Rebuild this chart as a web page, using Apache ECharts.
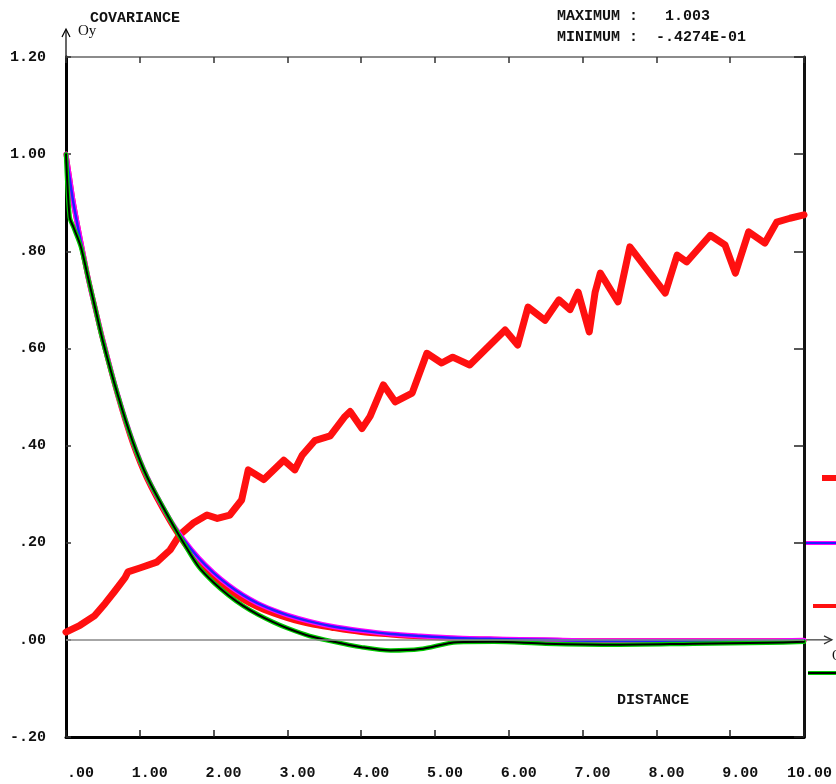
<!DOCTYPE html>
<html>
<head>
<meta charset="utf-8">
<script src="https://cdn.jsdelivr.net/npm/echarts@6/dist/echarts.min.js"></script>
<style>
  html, body { margin: 0; padding: 0; background: #fff; }
  #chart { width: 836px; height: 784px; }
</style>
</head>
<body>
<div id="chart"></div>
<script>
// rising red curve
const distRise = [0, 0.19, 0.39, 0.53, 0.66, 0.8, 0.84, 1.0, 1.23, 1.41, 1.54, 1.72, 1.91, 2.05, 2.22, 2.38, 2.47,
  2.68, 2.95, 3.1, 3.2, 3.37, 3.58, 3.78, 3.85, 4.01, 4.12, 4.3, 4.46, 4.69, 4.89, 5.09, 5.24, 5.47, 5.95,
  6.12, 6.26, 6.49, 6.68, 6.83, 6.94, 7.09, 7.17, 7.24, 7.48, 7.64, 8.12, 8.28, 8.41, 8.73, 8.93, 9.07,
  9.25, 9.47, 9.63, 9.81, 10.0];
const covRise = [0.016, 0.03, 0.05, 0.075, 0.1, 0.128, 0.14, 0.148, 0.16, 0.185, 0.216, 0.24, 0.257, 0.25, 0.257,
  0.288, 0.35, 0.33, 0.37, 0.35, 0.38, 0.41, 0.42, 0.46, 0.47, 0.435, 0.46, 0.525, 0.49, 0.508, 0.59, 0.57,
  0.582, 0.566, 0.638, 0.607, 0.685, 0.658, 0.70, 0.68, 0.716, 0.634, 0.716, 0.755, 0.696, 0.809, 0.714,
  0.792, 0.778, 0.833, 0.813, 0.755, 0.84, 0.817, 0.86, 0.868, 0.875];

// decaying curves
const distDecay = [0, 0.05, 0.1, 0.2, 0.3, 0.4, 0.5, 0.7, 0.9, 1.1, 1.4, 1.6, 1.8, 2.0, 2.2, 2.4, 2.6, 2.8,
  3.0, 3.3, 3.6, 4.0, 4.4, 4.8, 5.3, 5.8, 6.5, 7.5, 8.5, 9.5, 10];
const covUpper = [1.0, 0.95, 0.90, 0.82, 0.745, 0.68, 0.617, 0.505, 0.41, 0.335, 0.25, 0.205, 0.168, 0.138,
  0.113, 0.092, 0.075, 0.062, 0.051, 0.038, 0.028, 0.019, 0.012, 0.008, 0.004, 0.002, 0.0, -0.002, -0.002,
  -0.002, -0.001];
const covRedDecay = [1.0, 0.95, 0.90, 0.82, 0.745, 0.68, 0.617, 0.503, 0.405, 0.33, 0.245, 0.198, 0.158,
  0.126, 0.102, 0.082, 0.066, 0.054, 0.044, 0.032, 0.024, 0.015, 0.010, 0.006, 0.003, 0.001, -0.001, -0.002,
  -0.002, -0.002, -0.002];
const covLower = [1.0, 0.87, 0.85, 0.81, 0.745, 0.68, 0.615, 0.505, 0.41, 0.335, 0.25, 0.198, 0.15, 0.118,
  0.092, 0.07, 0.052, 0.037, 0.024, 0.008, -0.003, -0.015, -0.022, -0.019, -0.005, -0.004, -0.008, -0.01,
  -0.008, -0.006, -0.004];

const MONO = "'Liberation Mono', 'DejaVu Sans Mono', monospace";

function fmt(v) {
  let s = Math.abs(v).toFixed(2);
  if (s.startsWith("0")) s = s.slice(1);
  return (v < 0 ? "-" : "") + s;
}

function pairs(xs, ys) {
  return xs.map((x, i) => [x, ys[i]]);
}

const chart = echarts.init(document.getElementById("chart"));

const line = (name, data, color, width, smooth) => ({
  name: name,
  type: "line",
  xAxisIndex: 0,
  yAxisIndex: 0,
  data: data,
  showSymbol: false,
  smooth: smooth,
  lineStyle: { color: color, width: width, cap: "round", join: "round" },
  silent: true,
  z: 3,
});

const option = {
  animation: false,
  backgroundColor: "#fff",
  grid: { left: 66, right: 32, top: 57, bottom: 47 },
  xAxis: [
    {
      type: "value",
      position: "bottom",
      min: 0,
      max: 10,
      interval: 1,
      axisLine: { show: true, onZero: false, lineStyle: { color: "#000", width: 3 } },
      axisTick: { inside: true, length: 7, lineStyle: { color: "#222", width: 1.5 } },
      splitLine: { show: false },
      axisLabel: {
        margin: 29,
        formatter: (v) => "{a|" + fmt(v) + "}",
        rich: {
          a: { width: 56, align: "right", fontFamily: MONO, fontWeight: "bold", fontSize: 15, color: "#111" },
        },
      },
    },
    {
      type: "value",
      position: "top",
      min: 0,
      max: 10,
      interval: 1,
      axisLine: { show: true, onZero: false, lineStyle: { color: "#666", width: 1.5 } },
      axisTick: { inside: true, length: 6, lineStyle: { color: "#333", width: 1.5 } },
      splitLine: { show: false },
      axisLabel: { show: false },
    },
  ],
  yAxis: [
    {
      type: "value",
      position: "left",
      min: -0.2,
      max: 1.2,
      interval: 0.2,
      axisLine: { show: true, onZero: false, lineStyle: { color: "#000", width: 3 } },
      axisTick: { inside: true, length: 5, lineStyle: { color: "#333", width: 1.5 } },
      splitLine: { show: false },
      axisLabel: {
        margin: 20,
        formatter: fmt,
        fontFamily: MONO,
        fontWeight: "bold",
        fontSize: 15,
        color: "#111",
      },
    },
    {
      type: "value",
      position: "right",
      min: -0.2,
      max: 1.2,
      interval: 0.2,
      axisLine: { show: true, onZero: false, lineStyle: { color: "#111", width: 3 } },
      axisTick: { inside: true, length: 10, lineStyle: { color: "#222", width: 1.5 } },
      splitLine: { show: false },
      axisLabel: { show: false },
    },
  ],
  series: [
    Object.assign(line("red rising", pairs(distRise, covRise), "#ff1010", 7, false), {
      markLine: {
        silent: true,
        symbol: ["none", "none"],
        label: { show: false },
        lineStyle: { color: "#888", width: 1.5, type: "solid" },
        data: [{ yAxis: 0 }],
      },
    }),
    line("red decay", pairs(distDecay, covRedDecay), "#ff1010", 5, 0.3),
    line("magenta", pairs(distDecay, covUpper), "#ff00ff", 5, 0.3),
    line("blue", pairs(distDecay, covUpper), "#2020ff", 2.5, 0.3),
    line("green", pairs(distDecay, covLower), "#00cc00", 4.5, 0.3),
    line("black", pairs(distDecay, covLower), "#000", 2, 0.3),
  ],
};

chart.setOption(option);

// decorations placed through the chart's own scales
const origin = chart.convertToPixel({ gridIndex: 0 }, [0, 1.2]);
const zeroEnd = chart.convertToPixel({ gridIndex: 0 }, [10, 0]);
const TXT = { fontFamily: MONO, fontWeight: "bold", fontSize: 15, fill: "#111" };

chart.setOption({
  graphic: [
    // Oy arrow above the left axis
    { type: "line", shape: { x1: origin[0], y1: origin[1], x2: origin[0], y2: origin[1] - 27 }, style: { stroke: "#000", lineWidth: 1.2 } },
    { type: "polyline", shape: { points: [[origin[0] - 4, origin[1] - 20], [origin[0], origin[1] - 28], [origin[0] + 4, origin[1] - 20]] }, style: { stroke: "#000", lineWidth: 1.2, fill: null } },
    { type: "text", left: origin[0] + 12, top: origin[1] - 33, style: { text: "Oy", font: "15px 'Liberation Serif', serif", fill: "#111" } },
    // Ox arrow past the right axis
    { type: "line", shape: { x1: zeroEnd[0], y1: zeroEnd[1], x2: zeroEnd[0] + 28, y2: zeroEnd[1] }, style: { stroke: "#333", lineWidth: 1.2 } },
    { type: "polyline", shape: { points: [[zeroEnd[0] + 20, zeroEnd[1] - 4], [zeroEnd[0] + 28, zeroEnd[1]], [zeroEnd[0] + 20, zeroEnd[1] + 4]] }, style: { stroke: "#333", lineWidth: 1.2, fill: null } },
    { type: "text", left: zeroEnd[0] + 28, top: zeroEnd[1] + 9, style: { text: "Ox", font: "14px 'Liberation Serif', serif", fill: "#111" } },
    // clipped legend samples on the right
    { type: "line", shape: { x1: 822, y1: 478, x2: 836, y2: 478 }, style: { stroke: "#ff1010", lineWidth: 6 } },
    { type: "line", shape: { x1: 806, y1: 543, x2: 836, y2: 543 }, style: { stroke: "#ff00ff", lineWidth: 4 } },
    { type: "line", shape: { x1: 806, y1: 543, x2: 836, y2: 543 }, style: { stroke: "#2020ff", lineWidth: 2 } },
    { type: "line", shape: { x1: 813, y1: 606, x2: 836, y2: 606 }, style: { stroke: "#ff1010", lineWidth: 4 } },
    { type: "line", shape: { x1: 808, y1: 673, x2: 836, y2: 673 }, style: { stroke: "#00cc00", lineWidth: 4 } },
    { type: "line", shape: { x1: 808, y1: 673, x2: 836, y2: 673 }, style: { stroke: "#000", lineWidth: 2 } },
    // titles
    { type: "text", left: 90, top: 11, style: Object.assign({ text: "COVARIANCE" }, TXT) },
    { type: "text", left: 557, top: 9, style: Object.assign({ text: "MAXIMUM :   1.003" }, TXT) },
    { type: "text", left: 557, top: 30, style: Object.assign({ text: "MINIMUM :  -.4274E-01" }, TXT) },
    { type: "text", left: 617, top: 693, style: Object.assign({ text: "DISTANCE" }, TXT) },
  ],
});
</script>
</body>
</html>
